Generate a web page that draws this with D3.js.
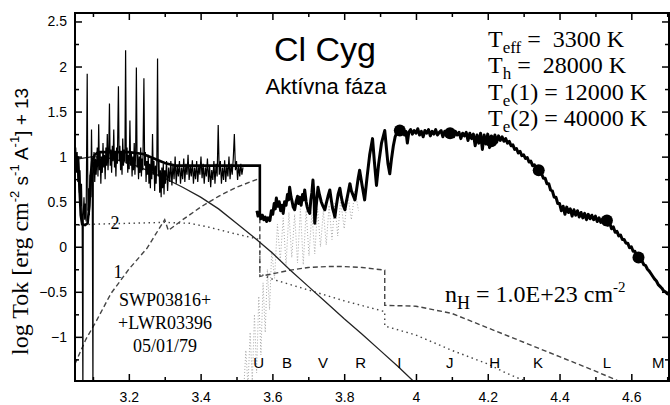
<!DOCTYPE html>
<meta charset="utf-8">
<style>
body { margin: 0; background: #fff; }
svg { display: block; }
.tick text { font-family: "Liberation Sans", Arial, sans-serif; font-size: 14px; fill: #000; }
.tick line { stroke: #000; stroke-width: 1.5; }
.serif { font-family: "Liberation Serif", "Times New Roman", serif; fill: #000; }
.sans { font-family: "Liberation Sans", Arial, sans-serif; fill: #000; }
</style>
<svg width="670" height="405"></svg>
<script src="https://cdn.jsdelivr.net/npm/d3@7"></script>
<script>

// ---- data (log lambda [A], log flux + 13) ----
var xMajor = [3.2, 3.4, 3.6, 3.8, 4.0, 4.2, 4.4, 4.6];
var xMinor = [3.1, 3.3, 3.5, 3.7, 3.9, 4.1, 4.3, 4.5, 4.7];
var yMajor = [-1, -0.5, 0, 0.5, 1, 1.5, 2, 2.5];
var yMinor = [-1.25, -0.75, -0.25, 0.25, 0.75, 1.25, 1.75, 2.25];

var bandNames  = ["U", "B", "V", "R", "I", "J", "H", "K", "L", "M"];
var bandLogLam = [3.562, 3.641, 3.741, 3.846, 3.954, 4.094, 4.219, 4.34, 4.532, 4.675];

// photometric points
var photX = [3.955, 4.095, 4.21, 4.342, 4.532, 4.62];
var photY = [1.29, 1.26, 1.17, 0.85, 0.29, -0.12];

// IUE spectrum SWP+LWR
var uvSpec = [
[3.050,0.96],[3.052,1.10],[3.054,0.82],[3.056,1.05],[3.058,0.72],[3.060,0.98],[3.062,0.60],[3.064,0.85],
[3.066,0.45],[3.068,0.70],[3.070,0.30],[3.072,-1.60],[3.073,0.35],[3.075,0.55],[3.077,0.30],[3.079,0.48],
[3.081,0.28],[3.084,1.92],[3.086,0.40],[3.088,0.65],[3.090,0.35],[3.092,0.80],[3.094,0.55],[3.096,1.30],
[3.098,0.70],[3.100,-1.60],[3.101,0.85],[3.103,1.05],[3.105,0.72],[3.107,0.98],[3.109,0.80],[3.112,1.10],
[3.114,0.78],[3.116,1.36],[3.118,0.85],[3.120,1.05],[3.122,0.70],[3.124,1.00],[3.126,0.82],[3.128,1.15],
[3.130,0.88],[3.132,1.02],[3.134,0.75],[3.136,1.10],[3.138,0.90],[3.140,1.25],[3.142,0.85],[3.144,1.05],
[3.146,1.59],[3.148,0.90],[3.150,1.08],[3.152,0.82],[3.154,1.12],[3.156,0.95],[3.158,1.30],[3.160,0.88],
[3.162,1.06],[3.164,0.78],[3.166,1.10],[3.168,0.92],[3.171,1.78],[3.173,0.95],[3.175,1.12],[3.177,0.85],
[3.179,1.05],[3.181,0.80],[3.183,1.20],[3.185,0.90],[3.187,1.08],[3.189,0.95],[3.191,2.18],[3.193,0.92],
[3.195,1.10],[3.197,0.82],[3.199,1.02],[3.201,0.86],[3.203,1.40],[3.205,0.90],[3.207,1.05],[3.209,0.78],
[3.211,1.00],[3.213,0.85],[3.215,1.15],[3.217,0.80],[3.219,1.05],[3.221,1.99],[3.223,0.88],[3.225,1.02],
[3.227,0.75],[3.229,1.00],[3.231,0.82],[3.233,1.10],[3.235,0.78],[3.237,0.98],[3.239,0.85],[3.242,1.87],
[3.244,0.90],[3.246,1.05],[3.248,0.72],[3.250,0.95],[3.252,0.80],[3.254,1.02],[3.256,0.70],[3.258,0.92],
[3.260,0.65],[3.262,0.98],[3.264,0.75],[3.266,1.25],[3.268,0.80],[3.270,0.95],[3.272,0.62],[3.274,0.90],
[3.276,0.70],[3.278,0.95],[3.280,2.09],[3.282,0.78],[3.284,0.95],[3.286,0.60],[3.288,0.85],[3.290,0.55],
[3.292,0.88],[3.294,0.65],[3.296,0.92],[3.298,0.58],[3.300,0.85],[3.302,0.70],[3.305,0.95],[3.308,0.62],
[3.311,0.88],[3.314,0.72],[3.317,0.95],[3.320,0.68],[3.323,0.92],[3.326,0.75],[3.329,1.00],[3.332,0.70],
[3.335,0.90],[3.338,0.78],[3.341,0.95],[3.344,0.70],[3.347,0.88],[3.350,0.75],[3.353,0.98],[3.356,0.72],
[3.359,0.92],[3.362,0.80],[3.365,1.02],[3.368,0.74],[3.371,0.90],[3.374,0.78],[3.377,0.96],[3.380,0.70],
[3.383,0.88],[3.386,0.75],[3.389,0.95],[3.392,0.72],[3.395,0.90],[3.398,0.80],[3.401,1.00],[3.404,0.76],
[3.407,0.92],[3.410,0.70],[3.413,0.88],[3.416,0.78],[3.419,0.98],[3.422,0.72],[3.425,0.90],[3.428,0.66],
[3.431,0.85],[3.434,0.74],[3.437,0.95],[3.440,0.70],[3.443,0.92],[3.446,0.78],[3.449,1.35],[3.452,0.80],
[3.455,0.95],[3.458,0.70],[3.461,0.88],[3.464,0.74],[3.467,0.96],[3.470,0.72],[3.473,0.90],[3.476,0.78],
[3.479,1.00],[3.482,0.75],[3.485,0.92],[3.488,0.80],[3.491,0.98],[3.494,1.25],[3.497,0.85],[3.500,0.95],
[3.503,0.74],[3.506,0.90],[3.509,0.78],[3.512,0.92],[3.515,0.80],[3.518,0.88]
];

// optical + IR spectrum
var optSpec = [
[3.557,0.40],[3.560,0.34],[3.564,0.38],[3.568,0.31],[3.572,0.35],[3.576,0.30],[3.580,0.33],[3.584,0.28],
[3.588,0.32],[3.593,0.29],[3.597,0.40],[3.601,0.36],[3.605,0.48],[3.608,0.42],[3.611,0.54],[3.615,0.45],
[3.619,0.50],[3.623,0.40],[3.627,0.46],[3.630,0.37],[3.634,0.50],[3.638,0.46],[3.642,0.58],[3.645,0.52],
[3.648,0.66],[3.652,0.55],[3.655,0.50],[3.658,0.44],[3.662,0.41],[3.666,0.50],[3.670,0.56],[3.673,0.48],
[3.676,0.55],[3.680,0.46],[3.684,0.58],[3.687,0.52],[3.690,0.63],[3.694,0.50],[3.697,0.44],[3.700,0.40],
[3.704,0.37],[3.707,0.52],[3.710,0.60],[3.713,0.74],[3.716,0.55],[3.718,0.26],[3.722,0.45],[3.727,0.66],
[3.731,0.58],[3.736,0.50],[3.741,0.45],[3.746,0.41],[3.750,0.48],[3.755,0.56],[3.760,0.63],[3.764,0.52],
[3.768,0.42],[3.771,0.38],[3.774,0.33],[3.778,0.45],[3.783,0.58],[3.788,0.65],[3.792,0.55],[3.797,0.46],
[3.802,0.41],[3.806,0.50],[3.811,0.60],[3.816,0.70],[3.820,0.62],[3.825,0.57],[3.830,0.52],[3.834,0.62],
[3.839,0.76],[3.843,0.85],[3.850,0.68],[3.857,0.52],[3.864,0.78],[3.871,1.02],[3.879,1.20],[3.884,0.95],
[3.890,0.68],[3.896,0.92],[3.904,1.15],[3.913,1.29],[3.918,1.08],[3.922,0.92],[3.927,0.81],[3.932,0.98],
[3.937,1.12],[3.942,1.22],[3.946,1.26],[3.952,1.30],[3.958,1.27],[3.963,1.31],[3.968,1.24],[3.972,1.28],
[3.976,1.15],[3.980,1.27],[3.985,1.30],[3.990,1.25],[3.995,1.29],[4.000,1.26],[4.005,1.31],[4.010,1.24],
[4.015,1.28],[4.020,1.22],[4.025,1.29],[4.030,1.26],[4.035,1.30],[4.040,1.23],[4.045,1.28],[4.050,1.25],
[4.055,1.30],[4.060,1.24],[4.065,1.27],[4.070,1.29],[4.075,1.22],[4.080,1.28],[4.085,1.26],[4.090,1.29],
[4.095,1.25],[4.100,1.27],[4.105,1.22],[4.110,1.28],[4.115,1.24],[4.120,1.27],[4.125,1.20],[4.130,1.26],
[4.135,1.23],[4.140,1.27],[4.145,1.18],[4.150,1.26],[4.155,1.20],[4.160,1.25],[4.165,1.12],[4.170,1.24],
[4.175,1.15],[4.180,1.26],[4.185,1.08],[4.190,1.24],[4.195,1.14],[4.200,1.25],[4.205,1.10],[4.210,1.23],
[4.215,1.15],[4.220,1.24],[4.225,1.16],[4.230,1.23],[4.235,1.18],[4.240,1.22],[4.245,1.17],[4.250,1.20],
[4.255,1.15],[4.260,1.17],[4.265,1.12],[4.270,1.13],[4.275,1.08],[4.280,1.09],[4.285,1.04],[4.290,1.06],
[4.295,1.01],[4.300,1.02],[4.305,0.98],[4.310,0.99],[4.315,0.94],[4.320,0.95],[4.325,0.90],[4.330,0.91],
[4.335,0.86],[4.340,0.87],[4.345,0.82],[4.350,0.81],[4.355,0.76],[4.360,0.76],[4.365,0.70],[4.370,0.70],
[4.375,0.63],[4.380,0.62],[4.385,0.55],[4.390,0.55],[4.395,0.48],[4.400,0.48],[4.405,0.40],[4.410,0.45],
[4.415,0.36],[4.420,0.44],[4.425,0.38],[4.430,0.42],[4.435,0.34],[4.440,0.41],[4.445,0.35],[4.450,0.40],
[4.455,0.33],[4.460,0.38],[4.465,0.32],[4.470,0.37],[4.475,0.30],[4.480,0.36],[4.485,0.31],[4.490,0.35],
[4.495,0.30],[4.500,0.34],[4.505,0.28],[4.510,0.32],[4.515,0.27],[4.520,0.31],[4.525,0.25],[4.530,0.29],
[4.535,0.24],[4.540,0.26],[4.545,0.20],[4.550,0.22],[4.555,0.16],[4.560,0.17],[4.565,0.12],[4.570,0.13],
[4.575,0.08],[4.580,0.08],[4.585,0.04],[4.590,0.04],[4.595,-0.01],[4.600,0.00],[4.605,-0.05],[4.610,-0.05],
[4.615,-0.10],[4.620,-0.11],[4.625,-0.14],[4.630,-0.16],[4.635,-0.20],[4.640,-0.21],[4.645,-0.25],[4.650,-0.27],
[4.655,-0.30],[4.660,-0.33],[4.665,-0.36],[4.670,-0.38],[4.675,-0.42],[4.680,-0.44],[4.685,-0.46],[4.690,-0.49],
[4.695,-0.50],[4.700,-0.52],[4.705,-0.53]
];

// giant model spectrum (Teff = 3300 K)
var giantSpec = [
[3.520,-1.60],[3.526,-1.15],[3.532,-1.55],[3.538,-0.95],[3.544,-1.50],[3.550,-0.75],[3.556,-1.40],[3.562,-0.55],
[3.568,-1.20],[3.574,-0.40],[3.580,-0.95],[3.586,-0.25],[3.592,-0.70],[3.598,-0.05],[3.606,-0.35],[3.614,0.25],
[3.622,-0.15],[3.630,0.32],[3.638,-0.20],[3.646,0.38],[3.654,-0.12],[3.662,0.36],[3.670,-0.18],[3.678,0.42],
[3.686,-0.20],[3.694,0.40],[3.702,-0.10],[3.710,0.38],[3.718,-0.08],[3.726,0.42],[3.734,0.00],[3.742,0.40],
[3.750,0.02],[3.758,0.46],[3.766,0.08],[3.774,0.48],[3.782,0.12],[3.790,0.52],[3.800,0.20],[3.810,0.58],
[3.820,0.30],[3.830,0.62],[3.840,0.40]
];

// total model
var modelTot = [
[3.050,1.00],[3.058,0.99],[3.062,0.70],[3.066,0.35],[3.070,0.25],[3.078,0.24],[3.085,0.26],[3.090,0.45],
[3.094,0.80],[3.098,0.95],[3.105,1.02],[3.115,1.05],[3.150,1.05],[3.200,1.05],[3.240,1.03],[3.270,0.98],
[3.300,0.93],[3.330,0.90],[3.400,0.90],[3.500,0.90],[3.565,0.90],[3.565,0.34]
];

// hot stellar source (Th = 28000 K)
var hotStar = [
[3.05,0.97],[3.10,1.00],[3.15,0.98],[3.20,0.93],[3.25,0.85],[3.30,0.76],[3.35,0.66],[3.40,0.55],
[3.45,0.42],[3.50,0.26],[3.55,0.10],[3.60,-0.07],[3.65,-0.26],[3.70,-0.44],[3.75,-0.62],[3.80,-0.80],
[3.85,-0.97],[3.90,-1.15],[3.95,-1.33],[3.995,-1.50]
];

// nebula 1 (Te = 12000 K)
var neb1 = [
[3.05,-1.30],[3.08,-1.03],[3.11,-0.82],[3.15,-0.52],[3.20,-0.25],[3.25,-0.02],[3.30,0.30],[3.31,0.18],
[3.35,0.30],[3.40,0.44],[3.45,0.56],[3.50,0.66],[3.565,0.76],[3.565,-0.33],[3.60,-0.30],[3.65,-0.26],
[3.70,-0.23],[3.75,-0.22],[3.80,-0.22],[3.85,-0.23],[3.913,-0.26],[3.913,-0.65],[4.00,-0.66],[4.10,-0.74],
[4.20,-0.90],[4.30,-1.06],[4.40,-1.22],[4.50,-1.38],[4.57,-1.50]
];

// nebula 2 (Te = 40000 K)
var neb2 = [
[3.06,0.24],[3.10,0.25],[3.20,0.26],[3.30,0.27],[3.37,0.26],[3.42,0.22],[3.46,0.18],[3.50,0.14],
[3.565,0.08],[3.565,-0.30],[3.60,-0.36],[3.70,-0.48],[3.80,-0.60],[3.913,-0.72],[3.913,-0.88],[4.00,-0.98],
[4.10,-1.15],[4.20,-1.30],[4.25,-1.40],[4.31,-1.50]
];

// ---- drawing ----
var svg = d3.select("svg");
var pL = 75, pR = 669, pT = 13, pB = 381;

var x = d3.scaleLinear().domain([3.05, 4.705]).range([pL, pR]);
var y = d3.scaleLinear().domain([-1.49, 2.594]).range([pB, pT]);

svg.append("clipPath").attr("id", "clip")
  .append("rect").attr("x", pL).attr("y", pT)
  .attr("width", pR - pL).attr("height", pB - pT);

var line = d3.line().x(function(d) { return x(d[0]); }).y(function(d) { return y(d[1]); });

var plot = svg.append("g").attr("clip-path", "url(#clip)");

plot.append("path").datum(giantSpec).attr("d", line)
  .attr("fill", "none").attr("stroke", "#a8a8a8").attr("stroke-width", 1)
  .attr("stroke-dasharray", "1,2");

plot.append("path").datum(neb2).attr("d", line)
  .attr("fill", "none").attr("stroke", "#444").attr("stroke-width", 1.4)
  .attr("stroke-dasharray", "1.5,3.5");

plot.append("path").datum(neb1).attr("d", line)
  .attr("fill", "none").attr("stroke", "#444").attr("stroke-width", 1.4)
  .attr("stroke-dasharray", "5,3");

plot.append("path").datum(hotStar).attr("d", line)
  .attr("fill", "none").attr("stroke", "#222").attr("stroke-width", 1.3);

plot.append("path").datum(uvSpec).attr("d", line)
  .attr("fill", "none").attr("stroke", "#000").attr("stroke-width", 1.2);

plot.append("path").datum(optSpec).attr("d", line)
  .attr("fill", "none").attr("stroke", "#000").attr("stroke-width", 3)
  .attr("stroke-linejoin", "round");

plot.append("path").datum(modelTot).attr("d", line)
  .attr("fill", "none").attr("stroke", "#000").attr("stroke-width", 2.6);

plot.selectAll("circle.phot").data(photX).enter().append("circle")
  .attr("class", "phot")
  .attr("cx", function(d) { return x(d); })
  .attr("cy", function(d, i) { return y(photY[i]); })
  .attr("r", 6).attr("fill", "#000");

// axes with inward ticks
function noLabel() { return ""; }
svg.append("g").attr("transform", "translate(0," + pB + ")")
  .call(d3.axisBottom(x).tickValues(xMajor).tickSize(-7).tickPadding(11).tickFormat(d3.format("")));
svg.append("g").attr("transform", "translate(0," + pB + ")")
  .call(d3.axisBottom(x).tickValues(xMinor).tickSize(-4).tickFormat(noLabel));
svg.append("g").attr("transform", "translate(0," + pT + ")")
  .call(d3.axisTop(x).tickValues(xMajor).tickSize(-7).tickFormat(noLabel));
svg.append("g").attr("transform", "translate(0," + pT + ")")
  .call(d3.axisTop(x).tickValues(xMinor).tickSize(-4).tickFormat(noLabel));
svg.append("g").attr("transform", "translate(" + pL + ",0)")
  .call(d3.axisLeft(y).tickValues(yMajor).tickSize(-7).tickPadding(8).tickFormat(d3.format("")));
svg.append("g").attr("transform", "translate(" + pL + ",0)")
  .call(d3.axisLeft(y).tickValues(yMinor).tickSize(-4).tickFormat(noLabel));
svg.append("g").attr("transform", "translate(" + pR + ",0)")
  .call(d3.axisRight(y).tickValues(yMajor).tickSize(-7).tickFormat(noLabel));
svg.append("g").attr("transform", "translate(" + pR + ",0)")
  .call(d3.axisRight(y).tickValues(yMinor).tickSize(-4).tickFormat(noLabel));
svg.selectAll(".domain").remove();

svg.append("rect").attr("x", pL).attr("y", pT)
  .attr("width", pR - pL).attr("height", pB - pT)
  .attr("fill", "none").attr("stroke", "#000").attr("stroke-width", 2);

// band labels
svg.selectAll("text.band").data(bandNames).enter().append("text")
  .attr("class", "band sans")
  .attr("x", function(d, i) { return x(bandLogLam[i]); })
  .attr("y", 368).attr("text-anchor", "middle")
  .style("font-size", "15px")
  .text(function(d) { return d; });

// titles
svg.append("text").attr("class", "sans").attr("x", 325).attr("y", 61)
  .attr("text-anchor", "middle").style("font-size", "34px").text("Cl Cyg");
svg.append("text").attr("class", "sans").attr("x", 326).attr("y", 94)
  .attr("text-anchor", "middle").style("font-size", "22px").text("Aktívna fáza");

// temperatures
function tempLine(yy, sub, rest) {
  var t = svg.append("text").attr("class", "serif").attr("x", 488).attr("y", yy)
    .style("font-size", "24px");
  t.append("tspan").text("T");
  t.append("tspan").attr("dy", 6).style("font-size", "17px").text(sub);
  t.append("tspan").attr("dy", -6).text(rest);
}
tempLine(47, "eff", " = \u00a03300 K");
tempLine(73, "h", " = \u00a028000 K");
tempLine(100, "e", "(1) = 12000 K");
tempLine(126, "e", "(2) = 40000 K");

var nh = svg.append("text").attr("class", "serif").attr("x", 445).attr("y", 302)
  .style("font-size", "24px");
nh.append("tspan").text("n");
nh.append("tspan").attr("dy", 7).style("font-size", "18px").text("H");
nh.append("tspan").attr("dy", -7).text(" = 1.0E+23 cm");
nh.append("tspan").attr("dy", -10).style("font-size", "15px").text("-2");

// observation ids
var obs = ["SWP03816+", "+LWR03396", "05/01/79"];
svg.selectAll("text.obs").data(obs).enter().append("text")
  .attr("class", "obs serif")
  .attr("x", 165).attr("y", function(d, i) { return 306 + i * 23; })
  .attr("text-anchor", "middle").style("font-size", "18px")
  .text(function(d) { return d; });

svg.append("text").attr("class", "serif").attr("x", 115).attr("y", 229)
  .attr("text-anchor", "middle").style("font-size", "18px").text("2");
svg.append("text").attr("class", "serif").attr("x", 118).attr("y", 278)
  .attr("text-anchor", "middle").style("font-size", "18px").text("1");

// y label
var yl = svg.append("text").attr("transform", "translate(28,355) rotate(-90)");
yl.append("tspan").attr("class", "serif").style("font-size", "24px").text("log Tok [erg cm");
yl.append("tspan").attr("class", "sans").attr("dy", -9).style("font-size", "13px").text("-2");
yl.append("tspan").attr("class", "sans").attr("dy", 9).style("font-size", "19px").text(" s");
yl.append("tspan").attr("class", "sans").attr("dy", -9).style("font-size", "13px").text("-1");
yl.append("tspan").attr("class", "sans").attr("dy", 9).style("font-size", "19px").text(" A");
yl.append("tspan").attr("class", "sans").attr("dy", -9).style("font-size", "13px").text("-1");
yl.append("tspan").attr("class", "sans").attr("dy", 9).style("font-size", "19px").text("] + 13");

</script>
